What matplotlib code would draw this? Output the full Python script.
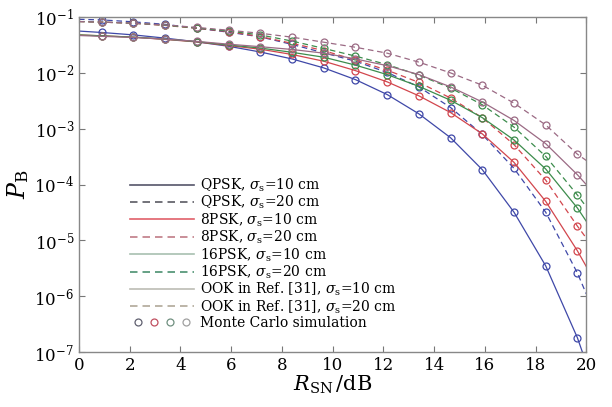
import matplotlib
matplotlib.use("Agg")
import matplotlib.pyplot as plt
from matplotlib.lines import Line2D
from matplotlib.legend_handler import HandlerTuple

# SNR grid used for the analytical curves (ends included) and the Monte Carlo points
snr_db = [0, 0.9, 2.15, 3.4, 4.65, 5.9, 7.15, 8.4, 9.65, 10.9, 12.15,
          13.4, 14.65, 15.9, 17.15, 18.4, 19.65, 20]

# bit error probability
qpsk_10 = [5.62e-2, 5.30e-2, 4.80e-2, 4.20e-2, 3.60e-2, 3.00e-2, 2.37e-2, 1.78e-2,
           1.23e-2, 7.59e-3, 4.10e-3, 1.85e-3, 6.9e-4, 1.85e-4, 3.2e-5, 3.5e-6,
           1.8e-7, 6.3e-8]
qpsk_20 = [9.12e-2, 8.91e-2, 8.22e-2, 7.41e-2, 6.31e-2, 5.37e-2, 4.42e-2, 3.24e-2,
           2.29e-2, 1.62e-2, 1.02e-2, 5.62e-3, 2.4e-3, 7.9e-4, 1.95e-4, 3.2e-5,
           2.6e-6, 1.1e-6]
psk8_10 = [4.79e-2, 4.62e-2, 4.37e-2, 3.98e-2, 3.59e-2, 3.09e-2, 2.66e-2, 2.14e-2,
           1.62e-2, 1.10e-2, 6.92e-3, 3.89e-3, 1.95e-3, 8.1e-4, 2.5e-4, 5.0e-5,
           6.5e-6, 3.4e-6]
psk8_20 = [8.32e-2, 8.13e-2, 7.76e-2, 7.08e-2, 6.31e-2, 5.50e-2, 4.47e-2, 3.39e-2,
           2.51e-2, 1.70e-2, 1.12e-2, 6.76e-3, 3.55e-3, 1.58e-3, 5.2e-4, 1.2e-4,
           1.8e-5, 1.1e-5]
psk16_10 = [4.79e-2, 4.62e-2, 4.37e-2, 4.03e-2, 3.63e-2, 3.16e-2, 2.79e-2, 2.34e-2,
            1.91e-2, 1.38e-2, 9.33e-3, 5.75e-3, 3.24e-3, 1.58e-3, 6.3e-4, 1.9e-4,
            3.8e-5, 2.2e-5]
psk16_20 = [8.32e-2, 8.13e-2, 7.76e-2, 7.16e-2, 6.38e-2, 5.62e-2, 4.79e-2, 3.72e-2,
            2.75e-2, 2.00e-2, 1.41e-2, 9.12e-3, 5.37e-3, 2.69e-3, 1.07e-3, 3.2e-4,
            6.5e-5, 4.0e-5]
ook_10 = [4.68e-2, 4.52e-2, 4.32e-2, 4.03e-2, 3.67e-2, 3.27e-2, 2.95e-2, 2.63e-2,
          2.26e-2, 1.78e-2, 1.35e-2, 9.33e-3, 5.62e-3, 3.02e-3, 1.41e-3, 5.4e-4,
          1.5e-4, 1.0e-4]
ook_20 = [8.32e-2, 8.13e-2, 7.76e-2, 7.24e-2, 6.53e-2, 5.82e-2, 5.13e-2, 4.37e-2,
          3.55e-2, 2.88e-2, 2.26e-2, 1.56e-2, 1.00e-2, 6.03e-3, 2.88e-3, 1.17e-3,
          3.5e-4, 2.7e-4]

labels = [r"QPSK, $\sigma_{\rm s}$=10 cm", r"QPSK, $\sigma_{\rm s}$=20 cm",
          r"8PSK, $\sigma_{\rm s}$=10 cm", r"8PSK, $\sigma_{\rm s}$=20 cm",
          r"16PSK, $\sigma_{\rm s}$=10 cm", r"16PSK, $\sigma_{\rm s}$=20 cm",
          r"OOK in Ref. [31], $\sigma_{\rm s}$=10 cm",
          r"OOK in Ref. [31], $\sigma_{\rm s}$=20 cm",
          "Monte Carlo simulation"]

plt.rcParams.update({
    "font.family": "DejaVu Serif",
    "mathtext.fontset": "dejavuserif",
})

BLUE = "#3f48a8"
RED = "#d2464d"
GREEN = "#3c8c4c"
MAUVE = "#9b6a84"

series = [
    (qpsk_10, BLUE, "-"), (qpsk_20, BLUE, "--"),
    (psk8_10, RED, "-"), (psk8_20, RED, "--"),
    (psk16_10, GREEN, "-"), (psk16_20, GREEN, "--"),
    (ook_10, MAUVE, "-"), (ook_20, MAUVE, "--"),
]

fig = plt.figure(figsize=(6.12, 4.07), dpi=100)
ax = fig.add_axes([0.129, 0.135, 0.829, 0.823])

for vals, col, ls in series:
    line, = ax.semilogy(snr_db, vals, color=col, lw=0.9, ls=ls)
    if ls == "--":
        line.set_dashes((4.5, 3))
    # Monte Carlo points (interior grid points)
    ax.semilogy(snr_db[1:-1], vals[1:-1], ls="none", marker="o", ms=5,
                mfc="none", mec=col, mew=0.9)

ax.set_xlim(0, 20)
ax.set_ylim(1e-7, 1e-1)
ax.set_xticks(range(0, 21, 2))
ax.minorticks_off()
ax.tick_params(direction="in", top=True, right=True, labelsize=12,
               length=4, color="#777777", width=0.8)
for sp in ax.spines.values():
    sp.set_color("#888888")
    sp.set_linewidth(1.0)

ax.set_xlabel(r"$R_{\rm SN}\,$/dB", fontsize=15, labelpad=0)
ax.set_ylabel(r"$P_{\rm B}$", fontsize=17, labelpad=2)

# legend as printed in the reference (muted colours)
leg_style = [("#55556a", "-"), ("#5a5a62", "--"), ("#e0606a", "-"), ("#c07c86", "--"),
             ("#a8c0b0", "-"), ("#4a9070", "--"), ("#bcbcb4", "-"), ("#b0a898", "--")]
handles = []
for col, ls in leg_style:
    h = Line2D([], [], color=col, ls=ls, lw=1.2)
    if ls == "--":
        h.set_dashes((4.5, 3))
    handles.append(h)
mc_cols = ["#606070", "#c05060", "#709080", "#a0a0a0"]
mc = tuple(Line2D([], [], ls="none", marker="o", ms=5, mfc="none", mec=c, mew=0.9)
           for c in mc_cols)
handles.append(mc)

ax.legend(handles, labels, loc="lower left", bbox_to_anchor=(0.09, 0.05),
          frameon=False, fontsize=10, handlelength=4.6, handletextpad=0.4,
          labelspacing=0.0, borderaxespad=0,
          handler_map={tuple: HandlerTuple(ndivide=None, pad=0.0)})

fig.savefig("out.png", dpi=100)
